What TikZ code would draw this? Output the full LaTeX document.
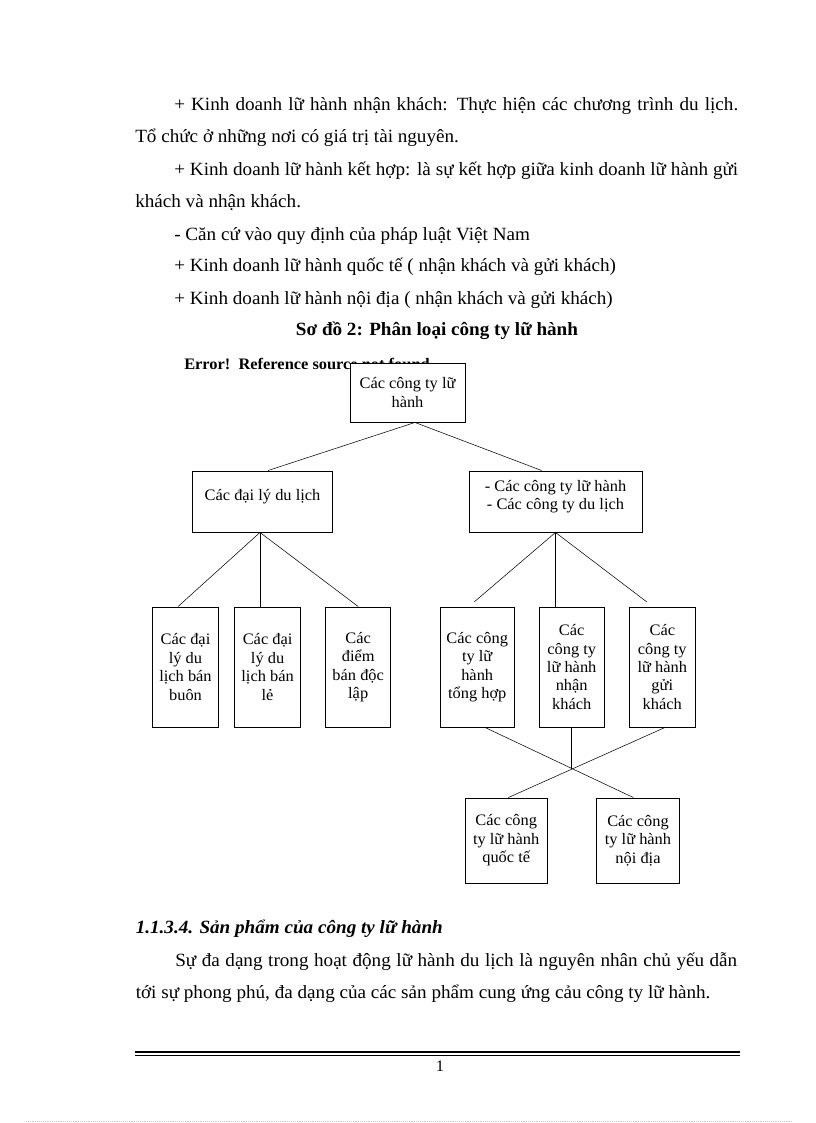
\documentclass[tikz,border=0pt]{standalone}
\usepackage{fontspec}
\setmainfont{Liberation Serif}[FakeStretch=1.025]
\usepackage{tikz}
\newcommand{\fullline}[2]{\makebox[#1][s]{#2}}
\tikzset{
  box/.style={draw, fill=white, line width=0.7pt, align=center, inner sep=2pt, font=\fontsize{12}{13.8}\selectfont},
  bodyline/.style={anchor=base west, inner sep=0pt, font=\fontsize{14}{16.8}\selectfont},
}

\begin{document}
\begin{tikzpicture}[x=0.75pt, y=-0.75pt]
		\useasboundingbox (0,0) rectangle (816,1123);
		
		% Draw the text above the chart
		\node (para1) [bodyline] at (174,111) {\fullline{423pt}{+ Kinh  doanh lữ hành nhận khách:  Thực hiện  các chương trình du lịch.}};
		\node (para2) [bodyline] at (135,143) {Tổ chức ở những nơi có giá trị tài nguyên.};
		\node (para3) [bodyline] at (174,175.5) {\fullline{423pt}{+ Kinh  doanh lữ hành kết hợp: là sự kết hợp giữa kinh doanh lữ hành gửi}};
		\node (para4) [bodyline] at (135,207.5) {khách và nhận khách.};
		\node (para5) [bodyline] at (174,240) {- Căn cứ vào quy định của pháp luật  Việt  Nam};
		\node (para6) [bodyline] at (174,272) {+ Kinh  doanh lữ hành quốc tế ( nhận khách và gửi khách)};
		\node (para7) [bodyline] at (174,304.5) {+ Kinh  doanh lữ hành nội địa ( nhận khách và gửi khách)};
		\node (caption) [bodyline, anchor=base, font=\fontsize{14}{16.8}\selectfont\bfseries] at (437,335) {Sơ đồ 2: Phân loại công ty lữ hành};
		\node (error) [bodyline, font=\fontsize{12}{14}\selectfont\bfseries] at (184,369) {Error!\ \ Reference source not found.};
		
		% Draw the top of the chart
		\node (company) [box, minimum width=86.25pt, minimum height=44.25pt] at (407.5,392.5) {Các công  ty lữ\\hành};
		\node (agencies) [box, minimum width=105pt, minimum height=45.75pt, text depth=10pt] at (262.5,501.5) {Các đại lý  du lịch};
		\node (firms) [box, minimum width=129.75pt, minimum height=45.75pt, text depth=10pt] at (555.5,501.5) {- Các công  ty lữ hành\\- Các công  ty  du lịch};
		
		% Draw the agency types
		\node (wholesale) [box, minimum width=49pt, minimum height=90pt] at (185.5,667) {Các đại\\lý  du\\lịch  bán\\buôn};
		\node (retail) [box, minimum width=49.5pt, minimum height=90pt] at (267.6,667) {Các đại\\lý  du\\lịch  bán\\lẻ};
		\node (outlet) [box, minimum width=49pt, minimum height=90pt] at (358.2,667) {Các\\điểm\\bán độc\\lập};
		
		% Draw the firm types
		\node (general) [box, minimum width=55.7pt, minimum height=90pt] at (477.2,667) {Các công\\ty lữ\\hành\\tổng hợp};
		\node (inbound) [box, minimum width=49pt, minimum height=90pt] at (571.7,667) {Các\\công ty\\lữ hành\\nhận\\khách};
		\node (outbound) [box, minimum width=49.5pt, minimum height=90pt] at (662.3,667) {Các\\công ty\\lữ hành\\gửi\\khách};
		
		% Draw the market types
		\node (intl) [box, minimum width=61.7pt, minimum height=63.75pt] at (506.2,840.5) {Các công\\ty lữ  hành\\quốc  tế};
		\node (domestic) [box, minimum width=62pt, minimum height=63.75pt] at (638,840.5) {Các công\\ty lữ  hành\\nội  địa};
		
		% Connect the boxes with lines
		\coordinate (companyfoot) at ([xshift=5.6pt]company.south);
		\coordinate (agencyfoot) at ([xshift=-1.9pt]agencies.south);
		\draw (companyfoot) -- ([xshift=4.1pt]agencies.north);
		\draw (companyfoot) -- ([xshift=-10.4pt]firms.north);
		\draw (agencyfoot) -- ([xshift=-5.6pt]wholesale.north);
		\draw (agencyfoot) -- (agencyfoot |- retail.north);
		\draw (agencyfoot) -- (outlet.north);
		\draw (firms.south) -- ([xshift=-2.2pt, yshift=3.5pt]general.north);
		\draw (firms.south) -- (firms.south |- inbound.north);
		\draw (firms.south) -- ([xshift=-11.7pt, yshift=3.5pt]outbound.north);
		
		% Draw the crossing lines
		\coordinate (generalfoot) at ([xshift=5.85pt]general.south);
		\coordinate (outboundfoot) at ([xshift=2pt]outbound.south);
		\coordinate (intlhead) at ([xshift=1.6pt]intl.north);
		\coordinate (domestichead) at ([xshift=-3.5pt]domestic.north);
		\coordinate (cross) at (intersection of generalfoot--domestichead and outboundfoot--intlhead);
		\draw (generalfoot) -- (domestichead);
		\draw (outboundfoot) -- (intlhead);
		\draw (inbound.south) -- (inbound.south |- cross);
		
		% Draw the text below the chart
		\node (heading) [bodyline, font=\fontsize{14}{16.8}\selectfont\bfseries\itshape] at (135.5,933.5) {1.1.3.4. Sản phẩm của công ty lữ hành};
		\node (para8) [bodyline] at (175,966) {\fullline{421.5pt}{Sự đa dạng trong hoạt động lữ hành du lịch là nguyên nhân chủ yếu dẫn}};
		\node (para9) [bodyline] at (135.5,998) {tới sự phong phú, đa dạng của các sản phẩm cung ứng cảu công ty lữ hành.};
		
		% Draw the footer
		\coordinate (ruleleft) at (135,1052);
		\coordinate (ruleright) at (740,1052);
		\draw[line width=1.7pt] (ruleleft) -- (ruleright);
		\draw[line width=0.6pt] ([yshift=-2.4pt]ruleleft) -- ([yshift=-2.4pt]ruleright);
		\node (pagenum) [bodyline, anchor=base, font=\fontsize{12}{14}\selectfont] at (440,1071) {1};
		\draw[gray!40, densely dotted] (26,1121) -- (792,1121);
\end{tikzpicture}
\end{document}
